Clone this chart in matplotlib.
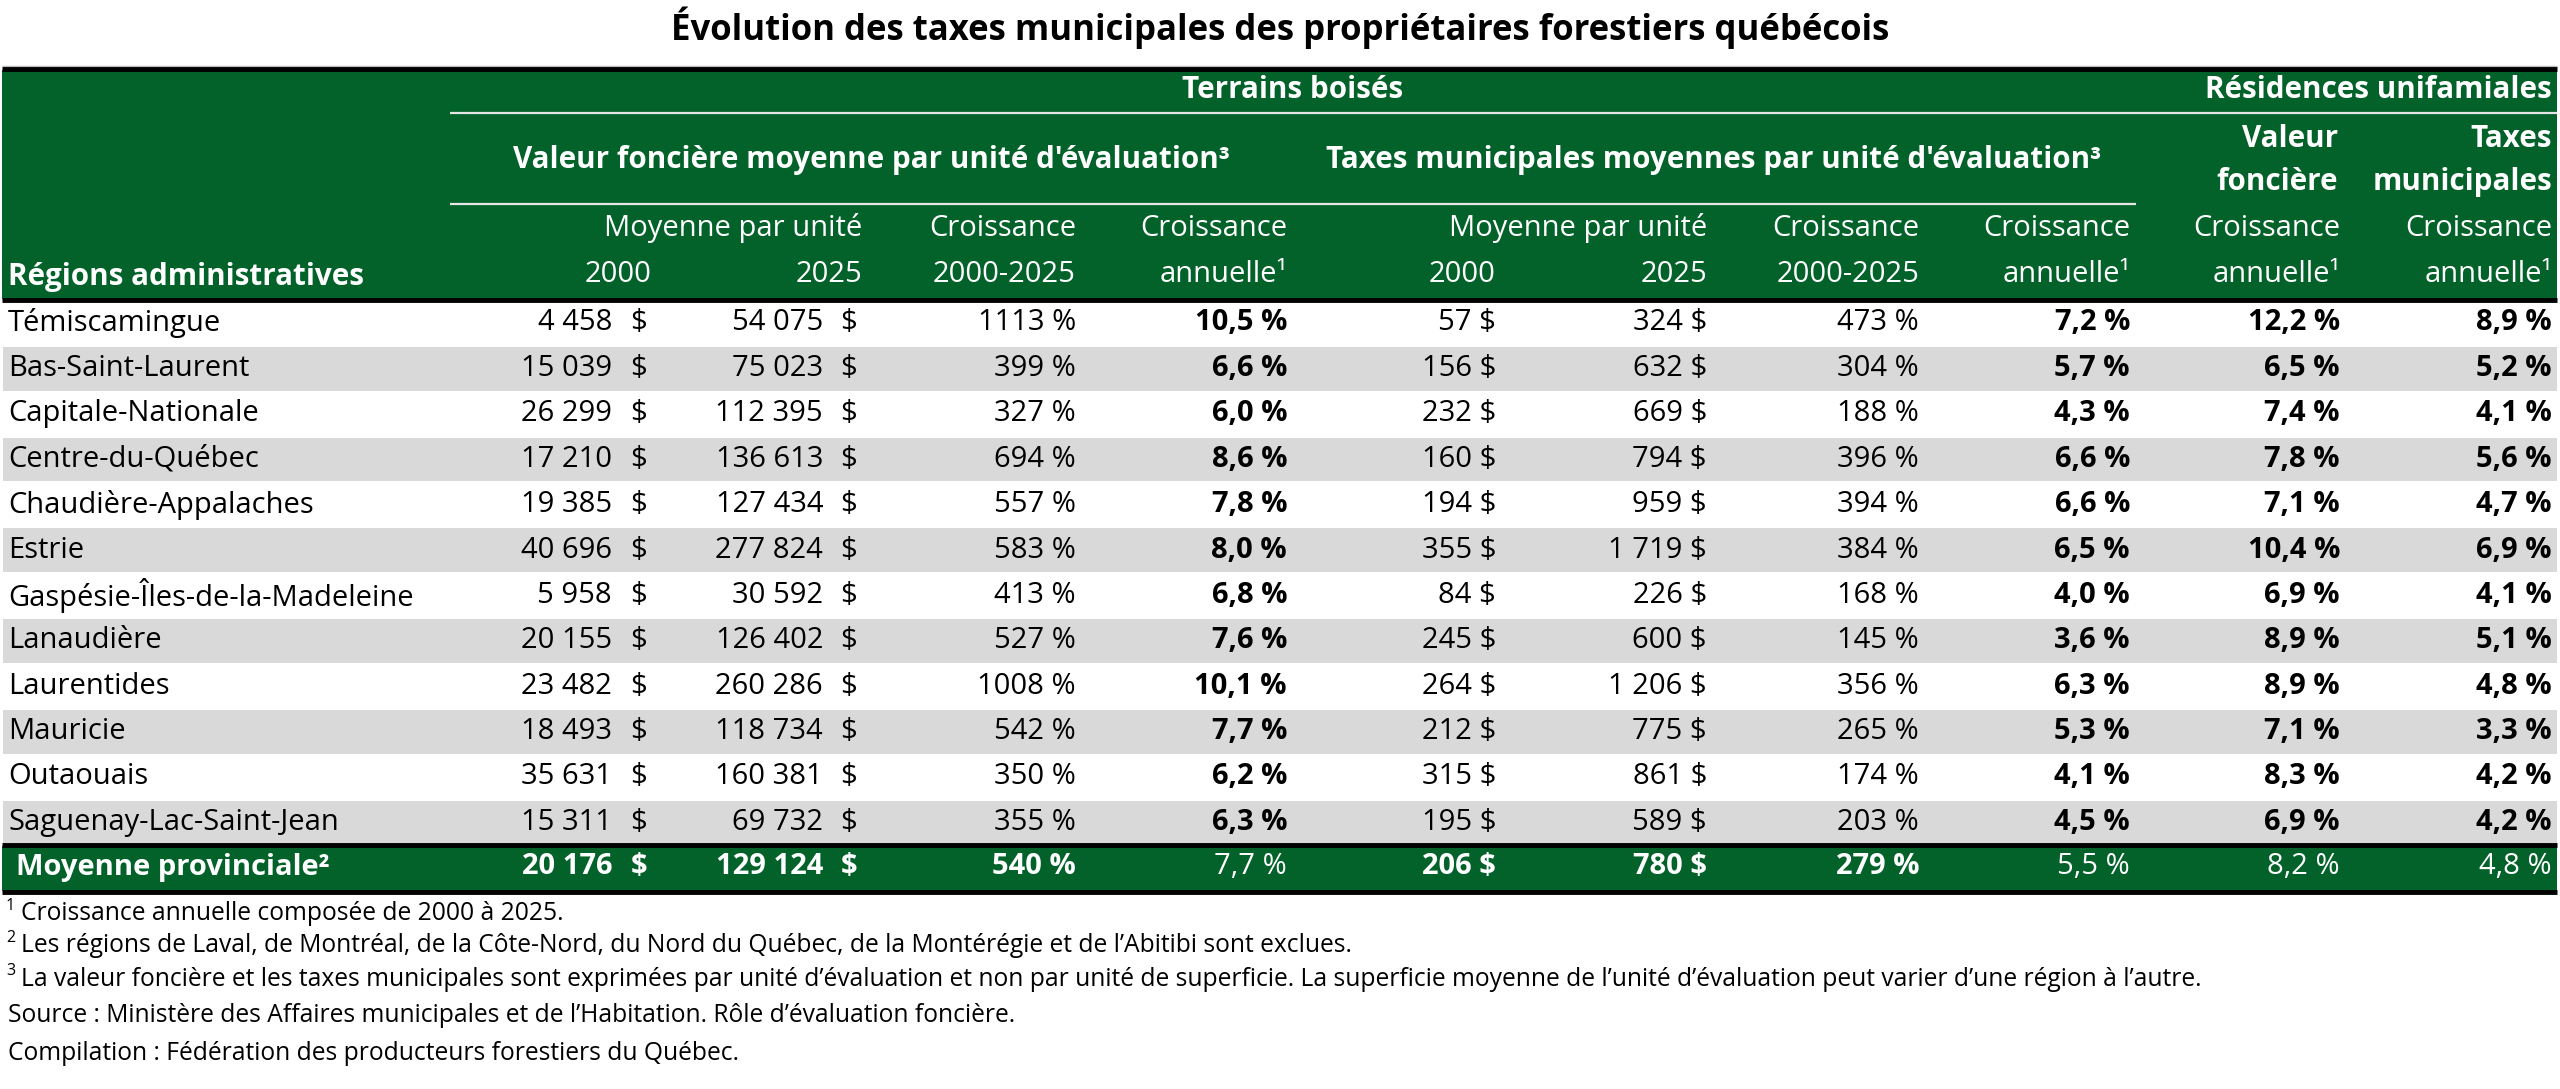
import matplotlib
matplotlib.use("Agg")
import matplotlib.pyplot as plt
from matplotlib.patches import Rectangle

plt.rcParams['font.family'] = ['Open Sans', 'DejaVu Sans']

# ---------------- data ----------------
title = "Évolution des taxes municipales des propriétaires forestiers québécois"
regions = ["Témiscamingue", "Bas-Saint-Laurent", "Capitale-Nationale", "Centre-du-Québec",
           "Chaudière-Appalaches", "Estrie", "Gaspésie-Îles-de-la-Madeleine", "Lanaudière",
           "Laurentides", "Mauricie", "Outaouais", "Saguenay-Lac-Saint-Jean"]
val_2000 = [4458, 15039, 26299, 17210, 19385, 40696, 5958, 20155, 23482, 18493, 35631, 15311]
val_2025 = [54075, 75023, 112395, 136613, 127434, 277824, 30592, 126402, 260286, 118734, 160381, 69732]
val_croiss = [1113, 399, 327, 694, 557, 583, 413, 527, 1008, 542, 350, 355]
val_annuel = [10.5, 6.6, 6.0, 8.6, 7.8, 8.0, 6.8, 7.6, 10.1, 7.7, 6.2, 6.3]
tax_2000 = [57, 156, 232, 160, 194, 355, 84, 245, 264, 212, 315, 195]
tax_2025 = [324, 632, 669, 794, 959, 1719, 226, 600, 1206, 775, 861, 589]
tax_croiss = [473, 304, 188, 396, 394, 384, 168, 145, 356, 265, 174, 203]
tax_annuel = [7.2, 5.7, 4.3, 6.6, 6.6, 6.5, 4.0, 3.6, 6.3, 5.3, 4.1, 4.5]
res_val_annuel = [12.2, 6.5, 7.4, 7.8, 7.1, 10.4, 6.9, 8.9, 8.9, 7.1, 8.3, 6.9]
res_tax_annuel = [8.9, 5.2, 4.1, 5.6, 4.7, 6.9, 4.1, 5.1, 4.8, 3.3, 4.2, 4.2]

total_label = "Moyenne provinciale²"
total_val_2000 = 20176
total_val_2025 = 129124
total_val_croiss = 540
total_val_annuel = 7.7
total_tax_2000 = 206
total_tax_2025 = 780
total_tax_croiss = 279
total_tax_annuel = 5.5
total_res_val = 8.2
total_res_tax = 4.8

head_group1 = "Terrains boisés"
head_group2 = "Résidences unifamiales"
head_sub1 = "Valeur foncière moyenne par unité d'évaluation³"
head_sub2 = "Taxes municipales moyennes par unité d'évaluation³"
head_region = "Régions administratives"

footnotes = [
    ("1", "Croissance annuelle composée de 2000 à 2025."),
    ("2", "Les régions de Laval, de Montréal, de la Côte-Nord, du Nord du Québec, de la Montérégie et de l’Abitibi sont exclues."),
    ("3", "La valeur foncière et les taxes municipales sont exprimées par unité d’évaluation et non par unité de superficie. La superficie moyenne de l’unité d’évaluation peut varier d’une région à l’autre."),
    ("", "Source : Ministère des Affaires municipales et de l’Habitation. Rôle d’évaluation foncière."),
    ("", "Compilation : Fédération des producteurs forestiers du Québec."),
]

# ---------------- helpers ----------------
def fint(n):
    return f"{n:,}".replace(",", " ")

def fpct_int(n):
    return f"{n} %"

def fpct_dec(v):
    return f"{v:.1f}".replace(".", ",") + " %"

GREEN = "#03622a"
GREY = "#d9d9d9"
W, H = 2560, 1089
FS = 21
FSH = 21.3
FSF = 17.7

fig = plt.figure(figsize=(W / 100, H / 100), dpi=100)
ax = fig.add_axes([0, 0, 1, 1])
ax.set_xlim(0, W)
ax.set_ylim(H, 0)
ax.axis('off')

# title
ax.text(1280, 28, title, ha='center', va='center', fontsize=25, fontweight='bold', color='black')

# header background
ax.plot([2, 2557], [66, 66], color='#bbbbbb', lw=1, solid_capstyle='butt')
ax.add_patch(Rectangle((2, 70), 2555, 229, facecolor=GREEN, edgecolor='none'))
ax.plot([2, 2557], [69, 69], color='black', lw=3.5, solid_capstyle='butt')
ax.plot([2, 2557], [300, 300], color='black', lw=3.5, solid_capstyle='butt')

# header lines
ax.plot([450, 2557], [113, 113], color='#e6e6e6', lw=1.6, solid_capstyle='butt')
ax.plot([450, 2136], [204, 204], color='#e6e6e6', lw=1.6, solid_capstyle='butt')

wk = dict(color='white', va='center')
ax.text(1293, 90, head_group1, ha='center', fontsize=FSH, fontweight='bold', **wk)
ax.text(2552, 90, head_group2, ha='right', fontsize=FSH, fontweight='bold', **wk)
ax.text(871, 160, head_sub1, ha='center', fontsize=FSH, fontweight='bold', **wk)
ax.text(1714, 160, head_sub2, ha='center', fontsize=FSH, fontweight='bold', **wk)
ax.text(2338, 139, "Valeur", ha='right', fontsize=FSH, fontweight='bold', **wk)
ax.text(2338, 182, "foncière", ha='right', fontsize=FSH, fontweight='bold', **wk)
ax.text(2552, 139, "Taxes", ha='right', fontsize=FSH, fontweight='bold', **wk)
ax.text(2552, 182, "municipales", ha='right', fontsize=FSH, fontweight='bold', **wk)
ax.text(8, 277, head_region, ha='left', fontsize=FSH, fontweight='bold', **wk)

# column right edges
xr = [647, 862, 1076, 1287, 1496, 1707, 1919, 2130, 2340, 2552]
y_h1, y_h2 = 228, 274
ax.text(xr[1], y_h1, "Moyenne par unité", ha='right', fontsize=FS, **wk)
ax.text(xr[5], y_h1, "Moyenne par unité", ha='right', fontsize=FS, **wk)
for c in (2, 6):
    ax.text(xr[c], y_h1, "Croissance", ha='right', fontsize=FS, **wk)
    ax.text(xr[c], y_h2, "2000-2025", ha='right', fontsize=FS, **wk)
for c in (3, 7, 8, 9):
    ax.text(xr[c], y_h1, "Croissance", ha='right', fontsize=FS, **wk)
    ax.text(xr[c], y_h2, "annuelle¹", ha='right', fontsize=FS, **wk)
ax.text(xr[0] + 5, y_h2, "2000", ha='right', fontsize=FS, **wk)
ax.text(xr[1], y_h2, "2025", ha='right', fontsize=FS, **wk)
ax.text(xr[4], y_h2, "2000", ha='right', fontsize=FS, **wk)
ax.text(xr[5], y_h2, "2025", ha='right', fontsize=FS, **wk)

# data rows
y0, dy = 323, 45.4
for i, reg in enumerate(regions):
    y = y0 + i * dy
    if i % 2 == 1:
        ax.add_patch(Rectangle((3, y - dy / 2 + 1), 2554, dy - 1.5, facecolor=GREY, edgecolor='none'))
    kw = dict(color='black', va='center', fontsize=FS)
    ax.text(8, y, reg, ha='left', **kw)
    ax.text(612, y, fint(val_2000[i]), ha='right', **kw)
    ax.text(647, y, "$", ha='right', **kw)
    ax.text(823, y, fint(val_2025[i]), ha='right', **kw)
    ax.text(857, y, "$", ha='right', **kw)
    ax.text(xr[2], y, fpct_int(val_croiss[i]), ha='right', **kw)
    ax.text(xr[3], y, fpct_dec(val_annuel[i]), ha='right', fontweight='bold', **kw)
    ax.text(xr[4], y, fint(tax_2000[i]) + " $", ha='right', **kw)
    ax.text(xr[5], y, fint(tax_2025[i]) + " $", ha='right', **kw)
    ax.text(xr[6], y, fpct_int(tax_croiss[i]), ha='right', **kw)
    ax.text(xr[7], y, fpct_dec(tax_annuel[i]), ha='right', fontweight='bold', **kw)
    ax.text(xr[8], y, fpct_dec(res_val_annuel[i]), ha='right', fontweight='bold', **kw)
    ax.text(xr[9], y, fpct_dec(res_tax_annuel[i]), ha='right', fontweight='bold', **kw)

# total row
yt = 867
ax.add_patch(Rectangle((2, 846), 2555, 45, facecolor=GREEN, edgecolor='none'))
ax.plot([2, 2557], [845, 845], color='black', lw=3.5, solid_capstyle='butt')
ax.plot([2, 2557], [891.5, 891.5], color='black', lw=3.5, solid_capstyle='butt')
tk = dict(color='white', va='center', fontsize=FS)
ax.text(16, yt, total_label, ha='left', fontweight='bold', **tk)
ax.text(612, yt, fint(total_val_2000), ha='right', fontweight='bold', **tk)
ax.text(647, yt, "$", ha='right', fontweight='bold', **tk)
ax.text(823, yt, fint(total_val_2025), ha='right', fontweight='bold', **tk)
ax.text(857, yt, "$", ha='right', fontweight='bold', **tk)
ax.text(xr[2], yt, fpct_int(total_val_croiss), ha='right', fontweight='bold', **tk)
ax.text(xr[3], yt, fpct_dec(total_val_annuel), ha='right', **tk)
ax.text(xr[4], yt, fint(total_tax_2000) + " $", ha='right', fontweight='bold', **tk)
ax.text(xr[5], yt, fint(total_tax_2025) + " $", ha='right', fontweight='bold', **tk)
ax.text(xr[6], yt, fpct_int(total_tax_croiss), ha='right', fontweight='bold', **tk)
ax.text(xr[7], yt, fpct_dec(total_tax_annuel), ha='right', **tk)
ax.text(xr[8], yt, fpct_dec(total_res_val), ha='right', **tk)
ax.text(xr[9], yt, fpct_dec(total_res_tax), ha='right', **tk)

# footnotes
fy = [914, 946, 979, 1015, 1053]
for (sup, txt), y in zip(footnotes, fy):
    if sup:
        ax.text(6, y - 8, sup, ha='left', va='center', fontsize=11.5, color='black')
        ax.text(21, y, txt, ha='left', va='center', fontsize=FSF, color='black')
    else:
        ax.text(8, y, txt, ha='left', va='center', fontsize=FSF, color='black')

fig.savefig("out.png", dpi=100, facecolor='white')
